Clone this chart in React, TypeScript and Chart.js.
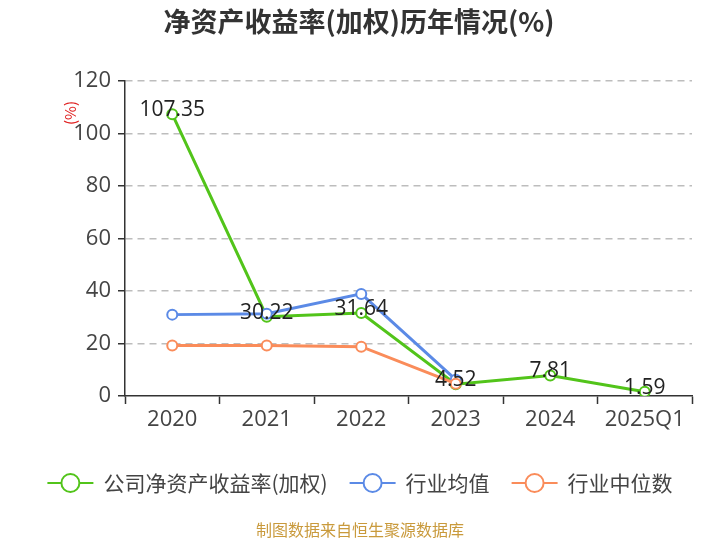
import { useEffect, useRef } from 'react'
import { Chart, registerables } from 'chart.js'

Chart.register(...registerables)

const years = ['2020', '2021', '2022', '2023', '2024', '2025Q1']
const companyRoe = [107.35, 30.22, 31.64, 4.52, 7.81, 1.59]
const industryAvg = [31.0, 31.3, 38.9, 6.2, null, null]
const industryMedian = [19.2, 19.2, 18.8, 4.7, null, null]
const yTicks = [0, 20, 40, 60, 80, 100, 120]
const seriesNames = ['公司净资产收益率(加权)', '行业均值', '行业中位数']
const seriesColors = ['#52c41a', '#5b8ae6', '#fa8c5a']

const FONT = '"Open Sans", "Noto Sans CJK SC", sans-serif'
const CJK = '"Noto Sans CJK SC", sans-serif'

// title, y unit, value labels on the company line, legend, source note
const decorations = {
  id: 'decorations',
  afterDatasetsDraw(chart: Chart) {
    const ctx = chart.ctx
    const meta = chart.getDatasetMeta(0)
    ctx.save()
    ctx.fillStyle = '#222'
    ctx.font = `21px ${FONT}`
    ctx.textAlign = 'center'
    ctx.textBaseline = 'middle'
    meta.data.forEach((pt: any, i) => {
      ctx.fillText(String(companyRoe[i]), pt.x, pt.y - 4)
    })
    ctx.restore()
  },
  afterDraw(chart: Chart) {
    const ctx = chart.ctx
    ctx.save()

    ctx.fillStyle = '#333'
    ctx.font = `bold 27px ${CJK}`
    ctx.textAlign = 'center'
    ctx.textBaseline = 'middle'
    ctx.fillText('净资产收益率(加权)历年情况(%)', 359, 22)

    ctx.save()
    ctx.translate(70, 113)
    ctx.rotate(-Math.PI / 2)
    ctx.fillStyle = '#e02020'
    ctx.font = `15px ${CJK}`
    ctx.fillText('(%)', 0, 0)
    ctx.restore()

    // legend
    ctx.font = `21px ${CJK}`
    const lineLen = 46
    const gapText = 10
    const gapItem = 22
    const widths = seriesNames.map(n => lineLen + gapText + ctx.measureText(n).width)
    const total = widths.reduce((a, b) => a + b, 0) + gapItem * (widths.length - 1)
    let x = 360 - total / 2
    const y = 483
    seriesNames.forEach((name, i) => {
      ctx.strokeStyle = seriesColors[i]
      ctx.lineWidth = 2
      ctx.beginPath()
      ctx.moveTo(x, y)
      ctx.lineTo(x + lineLen, y)
      ctx.stroke()
      ctx.beginPath()
      ctx.arc(x + lineLen / 2, y, 9, 0, Math.PI * 2)
      ctx.fillStyle = '#fff'
      ctx.fill()
      ctx.stroke()
      ctx.fillStyle = '#444'
      ctx.textAlign = 'left'
      ctx.fillText(name, x + lineLen + gapText, y)
      x += widths[i] + gapItem
    })

    ctx.fillStyle = '#c99a3c'
    ctx.font = `16px ${CJK}`
    ctx.textAlign = 'center'
    ctx.fillText('制图数据来自恒生聚源数据库', 360, 530)
    ctx.restore()
  },
}

export default function App() {
  const canvasRef = useRef<HTMLCanvasElement>(null)
  const chartRef = useRef<Chart | null>(null)

  useEffect(() => {
    document.body.style.margin = '0'
    if (!canvasRef.current) return
    if (chartRef.current) chartRef.current.destroy()

    const ds = (label: string, data: any[], color: string, order: number) => ({
      label,
      data,
      borderColor: color,
      backgroundColor: '#fff',
      borderWidth: 3,
      tension: 0,
      pointRadius: 5,
      pointBorderWidth: 2,
      pointBackgroundColor: '#fff',
      pointBorderColor: color,
      spanGaps: false,
      order,
    })

    chartRef.current = new Chart(canvasRef.current, {
      type: 'line',
      data: {
        labels: years,
        datasets: [
          ds(seriesNames[0], companyRoe, seriesColors[0], 3),
          ds(seriesNames[1], industryAvg, seriesColors[1], 2),
          ds(seriesNames[2], industryMedian, seriesColors[2], 1),
        ],
      },
      options: {
        animation: false,
        responsive: false,
        devicePixelRatio: 1,
        layout: { padding: { top: 81, left: 0, right: 28, bottom: 0 } },
        plugins: {
          legend: { display: false },
          tooltip: { enabled: false },
          title: { display: false },
        },
        scales: {
          x: {
            offset: true,
            grid: {
              offset: true,
              drawOnChartArea: false,
              tickLength: 8,
              tickColor: '#333',
              tickWidth: 1.5,
            },
            border: { color: '#333', width: 1.5 },
            ticks: { font: { size: 22, family: FONT }, color: '#444', padding: 3 },
            afterFit: (s: any) => { s.height = 144 },
          },
          y: {
            min: 0,
            max: 120,
            afterBuildTicks: (s: any) => { s.ticks = yTicks.map(v => ({ value: v })) },
            grid: {
              color: (c: any) => (c.tick && c.tick.value === 0 ? 'rgba(0,0,0,0)' : '#bdbdbd'),
              lineWidth: 1.5,
              tickLength: 7,
              tickColor: '#333',
              tickWidth: 1.5,
            },
            border: { color: '#333', width: 1.5, dash: [7, 5] },
            ticks: { font: { size: 22, family: FONT }, color: '#444', padding: 7 },
            afterFit: (s: any) => { s.width = 125 },
          },
        },
      },
      plugins: [decorations],
    })
    return () => { chartRef.current?.destroy() }
  }, [])

  return <canvas ref={canvasRef} width={720} height={540} style={{ display: 'block' }} />
}
